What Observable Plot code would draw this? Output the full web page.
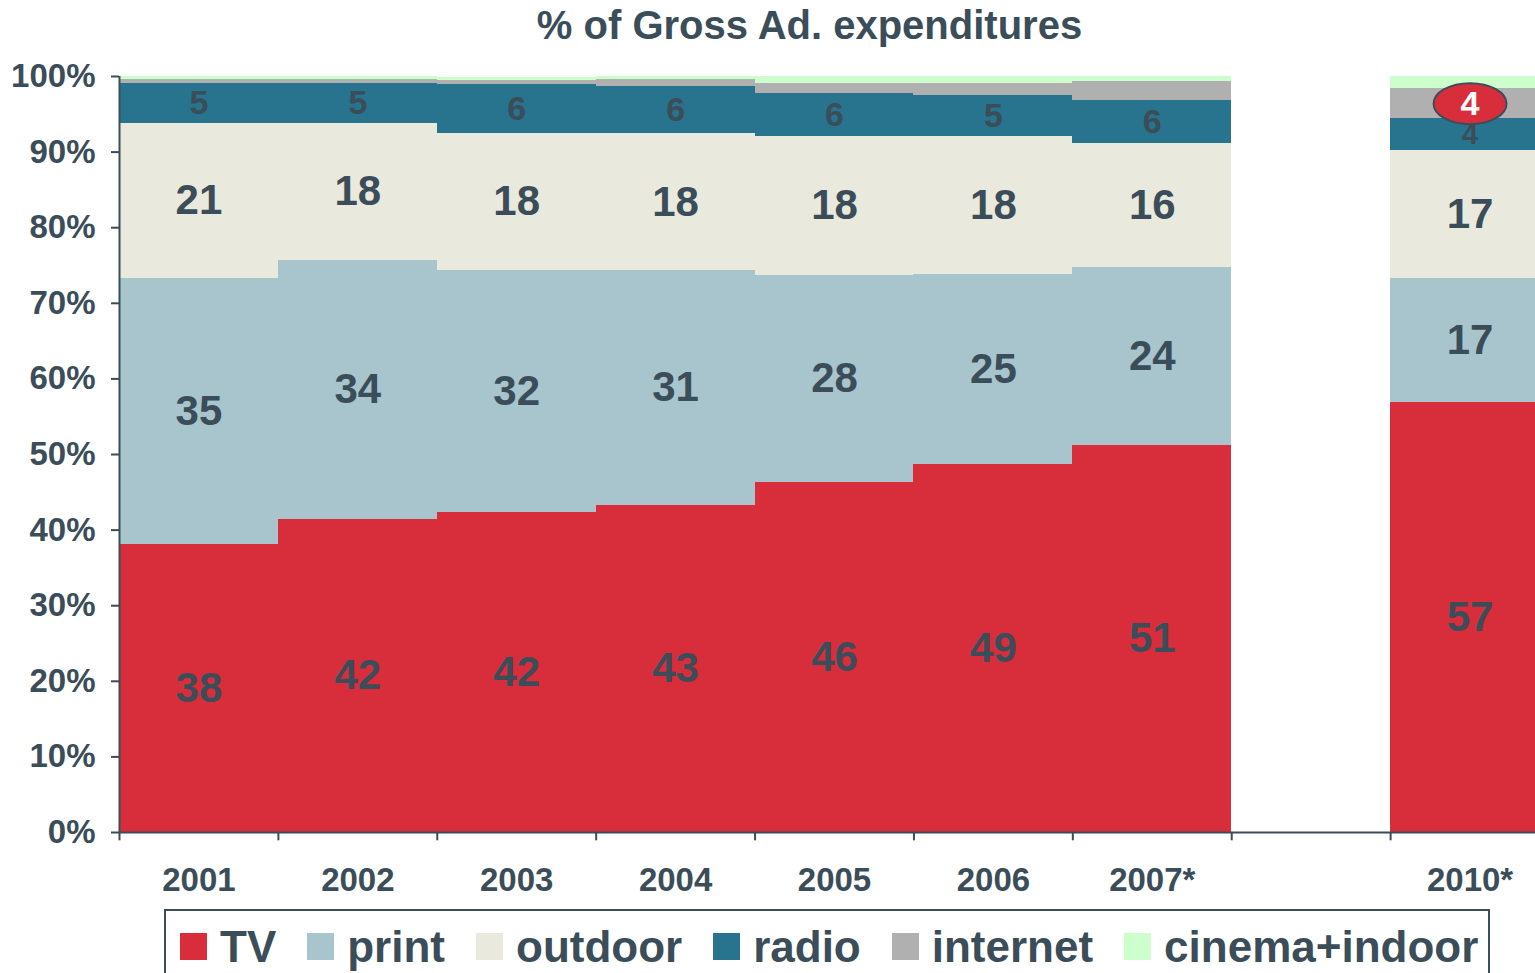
<!DOCTYPE html>
<html><head><meta charset="utf-8">
<script src="https://cdn.jsdelivr.net/npm/d3@7"></script>
<script src="https://cdn.jsdelivr.net/npm/@observablehq/plot@0.6"></script>
<style>
html,body{margin:0;padding:0;overflow:hidden;background:#fff;}
#wrap{position:relative;width:1535px;height:973px;overflow:hidden;font-family:"Liberation Sans",Arial,sans-serif;font-weight:bold;color:#3b4d59;}
#wrap svg{position:absolute;left:0;top:0;max-width:none !important;}
#legend{position:absolute;left:164px;top:909px;width:1326px;height:100px;border:2px solid #3b4d59;box-sizing:border-box;background:#fff;}
#legend .row{position:absolute;left:14px;top:22px;height:27px;display:flex;align-items:center;white-space:nowrap;}
#legend .item{display:flex;align-items:center;margin-right:31px;}
#legend .sw{width:27px;height:27px;margin-right:13px;flex:none;}
#legend .lab{font-size:44px;line-height:27px;}
</style>
</head><body>
<div id="wrap"><div id="legend"><div class="row"></div></div></div>
<script>
const title = "% of Gross Ad. expenditures";
const years = ["2001","2002","2003","2004","2005","2006","2007*"," ","2010*"];
const dataYears = ["2001","2002","2003","2004","2005","2006","2007*","2010*"];
const media = ["TV","print","outdoor","radio","internet","cinema+indoor"];
const colors = ["#d82e3c","#a8c5cd","#eae9dd","#28738e","#b0b0b0","#ccffcc"];

const tv       = [38.1, 41.4, 42.3, 43.3, 46.3, 48.7, 51.2, 56.9];
const print    = [35.2, 34.3, 32.1, 31.0, 27.4, 25.1, 23.5, 16.4];
const outdoor  = [20.5, 18.1, 18.1, 18.1, 18.4, 18.3, 16.4, 16.9];
const radio    = [5.3, 5.3, 6.5, 6.3, 5.7, 5.4, 5.7, 4.2];
const internet = [0.5, 0.5, 0.5, 0.9, 1.3, 1.6, 2.5, 4.0];
const cinema   = [0.4, 0.4, 0.4, 0.4, 0.9, 0.9, 0.7, 1.6];

const tvLabels      = [38, 42, 42, 43, 46, 49, 51, 57];
const printLabels   = [35, 34, 32, 31, 28, 25, 24, 17];
const outdoorLabels = [21, 18, 18, 18, 18, 18, 16, 17];
const radioLabels   = [5, 5, 6, 6, 6, 5, 6, 4];
const internetBadge = [null, null, null, null, null, null, null, 4];

const series = [tv, print, outdoor, radio, internet, cinema];
const labels = [tvLabels, printLabels, outdoorLabels, radioLabels, null, null];
const rows = [];
media.forEach((m, k) => {
  dataYears.forEach((y, i) => {
    rows.push({
      year: y, medium: m, value: series[k][i],
      label: labels[k] ? String(labels[k][i]) : null,
      size: k === 3 ? (y === "2010*" ? 29 : 34) : 42,
      badge: k === 4 && internetBadge[i] != null ? String(internetBadge[i]) : null
    });
  });
});

const ink = "#3b4d59";
const W = 1552, H = 910, mL = 119, mR = 3, mT = 76, mB = 78;
const bw = (W - mL - mR) / years.length;

const ellipse = {
  draw(ctx, size) {
    const r = Math.sqrt(size / Math.PI), rx = r * 1.78, ry = r, k = 0.5523;
    ctx.moveTo(rx, 0);
    ctx.bezierCurveTo(rx, ry * k, rx * k, ry, 0, ry);
    ctx.bezierCurveTo(-rx * k, ry, -rx, ry * k, -rx, 0);
    ctx.bezierCurveTo(-rx, -ry * k, -rx * k, -ry, 0, -ry);
    ctx.bezierCurveTo(rx * k, -ry, rx, -ry * k, rx, 0);
    ctx.closePath();
  }
};

const stackOpts = {x: "year", y: "value", z: "medium", order: media};

const plot = Plot.plot({
  width: W, height: H,
  marginLeft: mL, marginRight: mR, marginTop: mT, marginBottom: mB,
  style: {fontFamily: "'Liberation Sans', Arial, sans-serif", fontWeight: "bold", color: ink, background: "transparent", overflow: "visible", maxWidth: "none"},
  x: {domain: years, padding: 0, round: false},
  y: {domain: [0, 100]},
  color: {domain: media, range: colors},
  r: {type: "identity"},
  marks: [
    Plot.barY(rows, {...stackOpts, fill: "medium", inset: 0, shapeRendering: "crispEdges"}),
    Plot.ruleY([0], {stroke: ink, strokeWidth: 2}),
    Plot.ruleX(years, {x: d => d, y1: 0, y2: -1.1, dx: -bw / 2, stroke: ink, strokeWidth: 2}),
    Plot.ruleX([years[0]], {x: d => d, y1: 0, y2: 100, dx: -bw / 2, stroke: ink, strokeWidth: 2}),
    Plot.axisY({ticks: d3.range(0, 101, 10), tickSize: 8, tickPadding: 16, tickFormat: d => d + "%", fontSize: 33, color: ink, strokeWidth: 2, label: null}),
    Plot.axisX({tickSize: 0, tickPadding: 35, fontSize: 33, color: ink, label: null}),
    Plot.text(rows, Plot.stackY({...stackOpts, text: "label", fontSize: "size", fill: ink, fontWeight: "bold"})),
    Plot.dot(rows, Plot.stackY({...stackOpts, r: d => d.badge ? 20.5 : 0, symbol: ellipse, fill: "#d82e3c", stroke: ink, strokeWidth: 2})),
    Plot.text(rows, Plot.stackY({...stackOpts, text: "badge", fontSize: 34, fill: "white", fontWeight: "bold"})),
    Plot.text([title], {frameAnchor: "top", lineAnchor: "middle", dy: -50, dx: -25, fontSize: 40, fill: ink, fontWeight: "bold"})
  ]
});
plot.style.maxWidth = "none";
document.getElementById("wrap").prepend(plot);

const row = document.querySelector("#legend .row");
media.forEach((m, k) => {
  const it = document.createElement("div");
  it.className = "item";
  const sw = document.createElement("div");
  sw.className = "sw"; sw.style.background = colors[k];
  const lab = document.createElement("span");
  lab.className = "lab"; lab.textContent = m;
  it.append(sw, lab);
  row.append(it);
});
</script>
</body></html>
